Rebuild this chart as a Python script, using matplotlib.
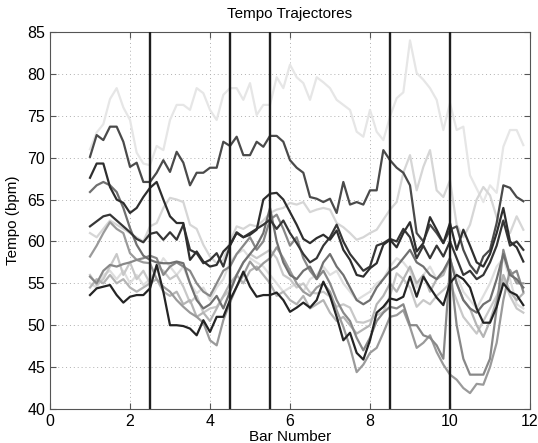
#!/usr/bin/env python3
# -*- coding: utf-8 -*-

# Import packages
import numpy as np
import matplotlib
matplotlib.use("Agg")
import matplotlib.pyplot as plt

# DATA
# beats sampled every 1/6 bar, from bar 1 onwards
n_points = 66
x_start = 1.0
x_step = 1.0 / 6.0

section_bounds = [2.5, 4.5, 5.5, 8.5, 10.0]

tempo_a = [71.0, 73.0, 74.0, 77.0, 78.3, 76.0, 74.5, 70.6, 69.3, 69.1, 71.4, 70.9,
           74.5, 76.3, 76.3, 75.7, 78.3, 77.7, 75.7, 74.5, 77.5, 78.3, 78.3, 76.9,
           78.9, 75.1, 76.3, 76.3, 79.6, 78.3, 81.1, 79.6, 78.9, 76.9, 79.6, 79.0,
           78.3, 76.9, 76.3, 75.7, 73.1, 72.5, 75.7, 73.1, 72.1, 74.9, 77.1, 77.8,
           84.0, 80.1, 79.3, 78.3, 76.9, 73.3, 76.5, 73.3, 73.7, 67.9, 66.3, 64.7,
           66.7, 65.8, 71.3, 73.3, 73.3, 71.5]
tempo_b = [70.1, 72.7, 72.1, 73.7, 73.7, 71.9, 68.9, 69.4, 67.1, 67.1, 68.2, 69.7,
           68.3, 70.7, 69.4, 66.7, 68.2, 68.2, 68.8, 68.8, 71.9, 71.4, 72.5, 70.3,
           70.3, 71.9, 71.3, 72.6, 72.6, 71.9, 69.7, 68.8, 68.2, 65.3, 65.1, 64.7,
           65.1, 63.4, 67.1, 64.4, 64.7, 64.4, 66.1, 66.1, 70.9, 69.7, 68.8, 68.2,
           66.7, 61.0, 60.0, 62.0, 61.0, 59.8, 61.4, 61.8, 59.0, 57.2, 56.2, 58.2,
           59.0, 62.2, 66.7, 66.4, 65.3, 64.8]
tempo_c = [67.6, 69.3, 69.3, 66.5, 65.0, 64.6, 63.4, 64.0, 65.3, 66.4, 67.1, 65.0,
           63.0, 62.2, 62.2, 57.8, 58.8, 57.6, 57.0, 57.2, 58.8, 59.6, 61.0, 60.5,
           60.8, 61.4, 65.0, 65.7, 65.8, 65.0, 63.5, 62.0, 60.3, 59.8, 60.4, 60.8,
           60.2, 61.3, 59.0, 57.8, 56.0, 55.8, 56.8, 57.4, 59.6, 60.2, 59.3, 61.0,
           62.3, 58.8, 59.8, 62.9, 61.4, 59.8, 62.2, 59.0, 61.4, 59.5, 57.5, 57.0,
           58.5, 61.0, 64.0, 60.0, 59.3, 57.6]
tempo_d = [65.9, 66.7, 67.1, 66.7, 65.9, 64.0, 61.6, 59.6, 58.3, 57.8, 57.5, 57.4,
           57.4, 57.6, 57.4, 55.0, 53.0, 52.0, 52.5, 53.5, 52.0, 54.0, 56.0, 57.5,
           58.5, 59.5, 61.0, 64.0, 60.0, 57.5, 56.0, 55.5, 56.5, 57.0, 55.5, 57.5,
           58.5, 57.0, 56.0, 54.5, 53.0, 52.5, 53.0, 54.5, 55.5, 56.5, 57.0, 58.0,
           59.0, 57.5, 57.0, 56.0, 55.5, 56.5, 58.0, 55.0, 53.0, 52.0, 51.5, 52.5,
           53.0, 55.5, 58.5, 56.0, 55.5, 54.5]
tempo_e = [61.8, 62.4, 63.0, 63.2, 62.5, 61.8, 61.1, 60.3, 59.9, 60.9, 61.1, 60.2,
           61.1, 60.2, 62.0, 59.0, 58.6, 57.4, 57.8, 58.6, 57.0, 59.5, 61.1, 60.5,
           61.0, 61.5, 62.0, 62.6, 61.5, 62.5, 61.0, 59.8, 58.5, 57.5, 58.0, 59.5,
           60.5, 62.0, 60.0, 58.5, 57.5, 56.5, 57.0, 59.5, 59.8, 60.3, 60.0, 61.5,
           60.5, 58.0, 59.5, 58.0, 59.5, 58.2, 60.0, 58.0, 56.0, 56.5, 55.5, 56.0,
           57.5, 59.5, 62.5, 59.5, 60.0, 59.0]
tempo_f = [61.0, 60.5, 61.5, 62.5, 62.0, 61.5, 61.0, 60.5, 60.0, 61.8, 62.2, 64.0,
           65.2, 65.0, 64.7, 62.0, 61.5, 59.6, 58.2, 57.4, 57.8, 60.0, 61.8, 61.5,
           62.0, 61.8, 62.5, 63.4, 63.8, 64.0, 64.6, 64.4, 64.7, 63.5, 63.8, 64.0,
           63.8, 62.2, 61.7, 61.0, 60.2, 60.5, 61.0, 61.4, 62.6, 63.8, 64.7, 68.2,
           70.3, 66.1, 68.9, 70.9, 66.1, 65.3, 67.3, 62.0, 60.5, 62.0, 65.0, 66.5,
           65.5, 62.9, 62.0, 61.0, 63.0, 61.4]
tempo_g = [58.2, 59.5, 61.0, 62.3, 61.5, 61.0, 58.6, 57.8, 57.5, 57.4, 55.5, 54.6,
           54.0, 53.0, 52.2, 51.5, 51.0, 50.3, 48.2, 47.6, 50.6, 52.7, 54.6, 56.0,
           57.6, 56.6, 57.4, 58.0, 59.3, 58.0, 56.5, 55.0, 54.0, 53.5, 54.5, 55.0,
           54.0, 51.8, 49.8, 47.4, 44.4, 45.3, 46.7, 47.3, 49.1, 51.0, 51.2, 51.8,
           49.8, 47.3, 47.9, 48.8, 46.8, 45.3, 44.1, 43.5, 42.5, 41.9, 43.0, 42.9,
           45.0, 47.9, 53.0, 56.6, 55.0, 55.0]
tempo_h = [56.0, 54.8, 55.5, 57.0, 58.5, 56.0, 57.5, 55.5, 56.5, 55.0, 57.0, 56.5,
           55.5, 56.0, 54.6, 52.7, 53.5, 51.5, 52.0, 52.2, 53.4, 54.2, 56.0, 57.5,
           58.5, 58.0, 58.5, 59.0, 58.0, 56.0, 55.5, 54.5, 55.0, 53.9, 53.8, 54.0,
           53.4, 52.2, 52.5, 52.1, 50.4, 50.3, 50.6, 51.2, 51.6, 53.5, 56.2, 55.5,
           54.5, 52.2, 53.0, 52.5, 53.5, 54.2, 55.0, 53.0, 51.0, 50.0, 49.0, 50.5,
           52.0, 53.5, 55.5, 53.5, 52.0, 51.5]
tempo_i = [55.8, 55.0, 56.5, 57.2, 57.0, 57.3, 57.5, 57.8, 58.0, 58.3, 58.0, 56.0,
           57.0, 57.5, 57.0, 56.5, 55.0, 54.0, 53.5, 55.0, 56.5, 57.0, 58.5, 59.5,
           60.5, 59.0, 60.0, 62.6, 63.2, 61.5, 59.5, 60.5, 58.0, 56.5, 55.5, 56.5,
           55.0, 53.0, 51.5, 50.5, 48.5, 47.0, 48.5, 50.5, 51.5, 52.2, 52.0, 52.5,
           50.0, 50.0, 48.8, 48.5, 47.6, 46.0, 57.0, 50.0, 46.0, 44.1, 44.1, 44.1,
           46.0, 52.0, 59.0, 56.0, 56.5, 54.0]
tempo_j = [55.0, 54.5, 56.0, 56.5, 55.5, 56.5, 55.0, 56.0, 54.8, 55.5, 56.5, 58.0,
           57.0, 56.0, 57.0, 55.0, 53.8, 54.5, 53.0, 54.5, 55.5, 57.5, 58.5, 59.0,
           58.0, 57.5, 57.0, 56.0, 55.0, 54.0, 54.5, 55.0, 54.0, 55.5, 56.0, 57.0,
           56.0, 56.5, 55.0, 54.0, 53.0, 53.5, 54.0, 55.0, 55.5, 57.0, 58.0, 57.5,
           56.5, 54.5, 56.0, 57.0, 55.5, 56.5, 57.5, 56.0, 54.0, 53.0, 52.0, 53.5,
           55.0, 57.0, 58.0, 55.5, 52.5, 52.0]
tempo_k = [54.5, 55.5, 55.0, 56.0, 55.0, 55.5, 54.5, 54.0, 54.5, 55.0, 55.5, 54.0,
           53.5, 54.0, 52.5, 53.0, 51.0, 51.5, 50.5, 52.0, 53.5, 55.0, 56.0, 55.0,
           56.5, 57.0, 56.0, 55.0, 53.5, 54.0, 53.0, 52.5, 53.5, 52.0, 52.5, 53.0,
           51.5, 50.5, 51.0, 50.0, 49.0, 49.5, 50.0, 52.5, 53.5, 55.0, 54.0, 55.5,
           57.0, 55.0, 56.0, 54.0, 55.5, 56.0, 58.0, 55.0, 53.0, 52.0, 50.0, 48.6,
           50.5, 53.0, 56.0, 54.0, 53.0, 53.8]
tempo_m = [53.6, 54.4, 54.6, 54.8, 53.6, 52.7, 53.4, 53.6, 53.6, 54.4, 57.2, 54.0,
           50.0, 50.0, 49.9, 49.6, 48.8, 50.6, 49.2, 51.0, 51.0, 53.0, 54.6, 56.4,
           54.6, 53.4, 53.6, 53.6, 53.9, 53.0, 51.6, 52.1, 52.7, 52.1, 53.0, 55.2,
           53.5, 51.0, 48.2, 49.1, 46.7, 45.9, 48.2, 51.5, 52.2, 53.2, 53.0, 53.4,
           55.8, 53.4, 55.8, 54.5, 53.3, 52.4, 55.0, 56.0, 55.5, 54.5, 52.0, 50.3,
           50.3, 52.2, 55.0, 54.0, 53.6, 52.4]

# lightest first so the dark trajectories sit on top
trajectories = [tempo_a, tempo_f, tempo_j, tempo_h, tempo_k, tempo_g,
                tempo_i, tempo_d, tempo_b, tempo_e, tempo_c, tempo_m]
shades = ["#e6e6e6", "#d6d6d6", "#dedede", "#c8c8c8", "#b4b4b4", "#9a9a9a",
          "#888888", "#707070", "#4a4a4a", "#363636", "#2e2e2e", "#242424"]


def make_tempo_plot(file_name):
    """Draws the tempo trajectories and saves them."""
    plt.rcParams["font.family"] = ["Liberation Sans", "DejaVu Sans"]
    fig = plt.figure(figsize=(5.38, 4.43), dpi=100)
    ax = fig.add_axes([50 / 538, 34 / 443, 480 / 538, 377 / 443])

    bars = x_start + x_step * np.arange(n_points)
    for values, shade in zip(trajectories, shades):
        ax.plot(bars, values, color=shade, linewidth=1.6, zorder=2)

    for bound in section_bounds:
        ax.axvline(bound, color="#1e1e1e", linewidth=1.7, zorder=3)

    ax.set_xlim(0, 12)
    ax.set_ylim(40, 85)
    ax.set_xticks(np.arange(0, 13, 2))
    ax.set_yticks(np.arange(40, 86, 5))
    ax.grid(True, linestyle=(0, (1, 3)), color="#b0b0b0", linewidth=0.7)
    ax.tick_params(direction="in", top=True, right=True, length=4,
                   labelsize=11.5, color="#555555")
    for spine in ax.spines.values():
        spine.set_color("#555555")
        spine.set_linewidth(0.8)

    ax.set_title("Tempo Trajectores", fontsize=11, pad=10)
    ax.set_xlabel("Bar Number", fontsize=11, labelpad=1)
    ax.set_ylabel("Tempo (bpm)", fontsize=11, labelpad=5)

    fig.savefig(file_name, dpi=100)
    plt.close(fig)


if __name__ == "__main__":
    make_tempo_plot("out.png")
